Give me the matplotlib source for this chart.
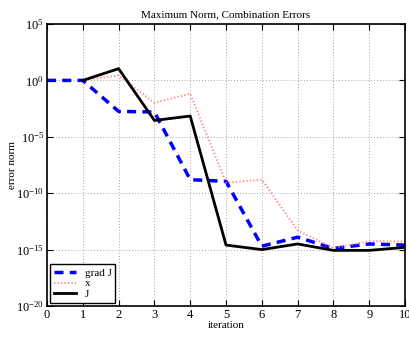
import matplotlib
matplotlib.use("Agg")
import matplotlib.pyplot as plt
import numpy as np

plt.rcParams['font.family'] = ['Liberation Serif', 'DejaVu Serif']
plt.rcParams['mathtext.fontset'] = 'stix'

it_grad = [0, 1, 2, 3, 4, 5, 6, 7, 8, 9, 10]
err_grad = [1e0, 1e0, 10**-2.75, 10**-2.8, 10**-8.8, 10**-8.95, 10**-14.7, 10**-13.9, 10**-14.9, 10**-14.5, 10**-14.6]

it_x = [1, 2, 3, 4, 5, 6, 7, 8, 9, 10]
err_x = [1e0, 10**0.44, 10**-1.98, 10**-1.18, 10**-9.07, 10**-8.8, 10**-13.3, 10**-14.86, 10**-14.25, 10**-14.3]

it_J = [1, 2, 3, 4, 5, 6, 7, 8, 9, 10]
err_J = [1e0, 10**1.04, 10**-3.55, 10**-3.16, 10**-14.6, 10**-15.0, 10**-14.5, 10**-15.07, 10**-15.07, 10**-14.8]

fig = plt.figure(figsize=(4.1, 3.38), dpi=100)
ax = fig.add_axes([0.1146, 0.0947, 0.8734, 0.8343])

ax.semilogy(it_grad, err_grad, '--', color='#0000ff', lw=2.5, dashes=(2.6, 1.8), label='grad J')
ax.semilogy(it_x, err_x, ':', color='#ff7a7a', lw=1.4, dashes=(0.6, 1.2), label='x')
ax.semilogy(it_J, err_J, '-', color='black', lw=2, label='J')

ax.set_xlim(0, 10)
ax.set_ylim(1e-20, 1e5)
ax.set_xticks(np.arange(0, 11))
ax.set_yticks([1e-20, 1e-15, 1e-10, 1e-5, 1e0, 1e5])
ax.minorticks_off()
ax.tick_params(direction='in', top=True, right=True, labelsize=9, length=4, pad=2)
ax.grid(True, linestyle=(0, (1, 2.5)), color='#888888', lw=0.6)
for s in ax.spines.values():
    s.set_linewidth(1.2)

ax.set_title('Maximum Norm, Combination Errors', fontsize=8, pad=5)
ax.set_xlabel('iteration', fontsize=8, labelpad=0)
ax.set_ylabel('error norm', fontsize=8)
ax.yaxis.set_label_coords(-0.085, 0.5)

leg = ax.legend(loc='lower left', fontsize=8, fancybox=False, framealpha=1,
                edgecolor='black', borderaxespad=0.3, handlelength=2.0,
                handletextpad=0.8, labelspacing=0.1, borderpad=0.3)
leg.get_frame().set_linewidth(1)

fig.savefig('out.png', dpi=100)
